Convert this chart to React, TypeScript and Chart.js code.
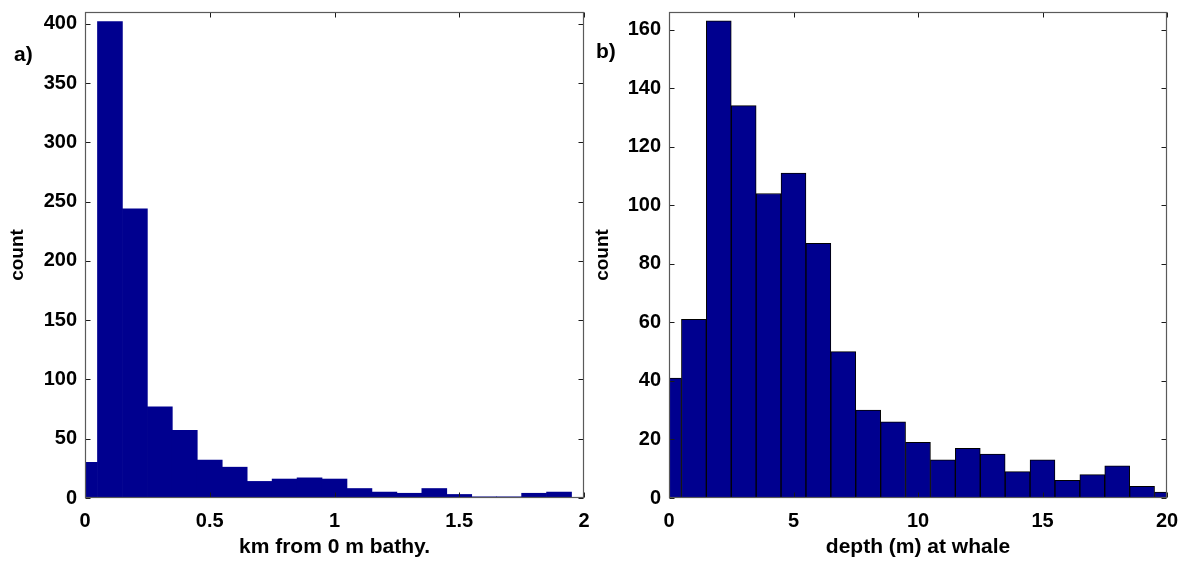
import React, { useEffect, useRef } from 'react';
import { Chart, registerables } from 'chart.js';

Chart.register(...registerables);

// ---- Panel a) distance from 0 m bathymetry (km), bin centres and counts ----
const distBinCenters = [0, 0.1, 0.2, 0.3, 0.4, 0.5, 0.6, 0.7, 0.8, 0.9, 1.0, 1.1, 1.2, 1.3, 1.4, 1.5, 1.6, 1.7, 1.8, 1.9];
const distCounts = [30, 402, 244, 77, 57, 32, 26, 14, 16, 17, 16, 8, 5, 4, 8, 3, 1, 1, 4, 5];
const distXTicks = [0, 0.5, 1, 1.5, 2];
const distXTickLabels = ['0', '0.5', '1', '1.5', '2'];
const distYTicks = [0, 50, 100, 150, 200, 250, 300, 350, 400];
const distXMax = 2;
const distYMax = 410;

// ---- Panel b) depth (m) at whale, bin centres and counts ----
const depthBinCenters = [0, 1, 2, 3, 4, 5, 6, 7, 8, 9, 10, 11, 12, 13, 14, 15, 16, 17, 18, 19, 20];
const depthCounts = [41, 61, 163, 134, 104, 111, 87, 50, 30, 26, 19, 13, 17, 15, 9, 13, 6, 8, 11, 4, 2];
const depthXTicks = [0, 5, 10, 15, 20];
const depthXTickLabels = ['0', '5', '10', '15', '20'];
const depthYTicks = [0, 20, 40, 60, 80, 100, 120, 140, 160];
const depthXMax = 20;
const depthYMax = 166;

const FONT = '"Liberation Sans", Arial, Helvetica, sans-serif';
const BAR_BLUE = '#00008f';

const framePlugin = {
  id: 'matlabFrame',
  afterDatasetsDraw(chart: any) {
    const { ctx, chartArea: a, scales } = chart;
    const L = 5;
    ctx.save();
    const left = Math.round(a.left) + 0.5;
    const top = Math.round(a.top) + 0.5;
    const right = Math.round(a.right) - 0.5;
    const bottom = Math.round(a.bottom) - 0.5;
    ctx.strokeStyle = '#1a1a1a';
    ctx.lineWidth = 1;
    ctx.beginPath();
    scales.x.ticks.forEach((t: any) => {
      const px = Math.round(scales.x.getPixelForValue(t.value)) + 0.5;
      ctx.moveTo(px, bottom);
      ctx.lineTo(px, bottom - L);
      ctx.moveTo(px, top);
      ctx.lineTo(px, top + L);
    });
    scales.y.ticks.forEach((t: any) => {
      const py = Math.round(scales.y.getPixelForValue(t.value)) + 0.5;
      ctx.moveTo(left, py);
      ctx.lineTo(left + L, py);
      ctx.moveTo(right, py);
      ctx.lineTo(right - L, py);
    });
    ctx.stroke();
    ctx.strokeStyle = '#5a5a5a';
    ctx.lineWidth = 1.2;
    ctx.strokeRect(left, top, right - left, bottom - top);
    ctx.restore();
  },
};

type PanelProps = {
  centers: number[];
  counts: number[];
  xTicks: number[];
  xTickLabels: string[];
  yTicks: number[];
  xMax: number;
  yMax: number;
  xTitle: string;
  yAxisWidth: number;
  padRight: number;
  yTitlePad: number;
  edged: boolean;
  width: number;
};

function Panel(p: PanelProps) {
  const ref = useRef<HTMLCanvasElement | null>(null);
  useEffect(() => {
    if (!ref.current) return;
    const tickFont = { family: FONT, size: 20, weight: 'bold' as const };
    const chart = new Chart(ref.current, {
      type: 'bar',
      data: {
        datasets: [
          {
            data: p.centers.map((x, i) => ({ x, y: p.counts[i] })),
            backgroundColor: BAR_BLUE,
            borderColor: p.edged ? '#000000' : BAR_BLUE,
            borderWidth: p.edged ? 1 : 0,
            borderSkipped: false,
            barPercentage: 1,
            categoryPercentage: 1,
            clip: 0,
          } as any,
        ],
      },
      options: {
        animation: false,
        responsive: true,
        maintainAspectRatio: false,
        layout: { padding: { left: 0, right: p.padRight, top: 12, bottom: 0 } },
        plugins: { legend: { display: false }, tooltip: { enabled: false } },
        scales: {
          x: {
            type: 'linear',
            min: 0,
            max: p.xMax,
            offset: false,
            grid: { display: false, drawTicks: false },
            border: { display: false },
            afterBuildTicks: (s: any) => {
              s.ticks = p.xTicks.map((v) => ({ value: v }));
            },
            afterFit: (s: any) => {
              s.height = 69;
              s.paddingLeft = 0;
              s.paddingRight = 0;
            },
            ticks: {
              font: tickFont,
              color: '#000',
              padding: 11,
              maxRotation: 0,
              autoSkip: false,
              callback: (v: any) => {
                const i = p.xTicks.indexOf(Number(v));
                return i >= 0 ? p.xTickLabels[i] : '';
              },
            },
            title: {
              display: true,
              text: p.xTitle,
              color: '#000',
              font: { family: FONT, size: 21, weight: 'bold' },
              padding: { top: 0, bottom: 7 },
            },
          },
          y: {
            type: 'linear',
            min: 0,
            max: p.yMax,
            grid: { display: false, drawTicks: false },
            border: { display: false },
            afterBuildTicks: (s: any) => {
              s.ticks = p.yTicks.map((v) => ({ value: v }));
            },
            afterFit: (s: any) => {
              s.width = p.yAxisWidth;
              s.paddingTop = 0;
              s.paddingBottom = 0;
            },
            ticks: {
              font: tickFont,
              color: '#000',
              padding: 8,
              autoSkip: false,
            },
            title: {
              display: true,
              text: 'count',
              color: '#000',
              font: { family: FONT, size: 19, weight: 'bold' },
              padding: { top: p.yTitlePad, bottom: 0 },
            },
          },
        },
      },
      plugins: [framePlugin],
    } as any);
    return () => chart.destroy();
  }, []);
  return (
    <div style={{ position: 'relative', width: p.width, height: 567 }}>
      <canvas ref={ref} />
    </div>
  );
}

const labelStyle: React.CSSProperties = {
  position: 'absolute',
  fontFamily: FONT,
  fontWeight: 'bold',
  fontSize: 21,
  lineHeight: '24px',
  color: '#000',
};

export default function App() {
  return (
    <div style={{ position: 'absolute', left: 0, top: 0, width: 1187, height: 567, background: '#fff' }}>
      <div style={{ position: 'absolute', left: 0, top: 0 }}>
        <Panel
          centers={distBinCenters}
          counts={distCounts}
          xTicks={distXTicks}
          xTickLabels={distXTickLabels}
          yTicks={distYTicks}
          xMax={distXMax}
          yMax={distYMax}
          xTitle="km from 0 m bathy."
          yAxisWidth={85}
          padRight={6}
          yTitlePad={6}
          edged={false}
          width={590}
        />
      </div>
      <div style={{ position: 'absolute', left: 590, top: 0 }}>
        <Panel
          centers={depthBinCenters}
          counts={depthCounts}
          xTicks={depthXTicks}
          xTickLabels={depthXTickLabels}
          yTicks={depthYTicks}
          xMax={depthXMax}
          yMax={depthYMax}
          xTitle="depth (m) at whale"
          yAxisWidth={79}
          padRight={20}
          yTitlePad={1}
          edged={true}
          width={597}
        />
      </div>
      <div style={{ ...labelStyle, left: 14, top: 42 }}>a)</div>
      <div style={{ ...labelStyle, left: 596, top: 39 }}>b)</div>
    </div>
  );
}
